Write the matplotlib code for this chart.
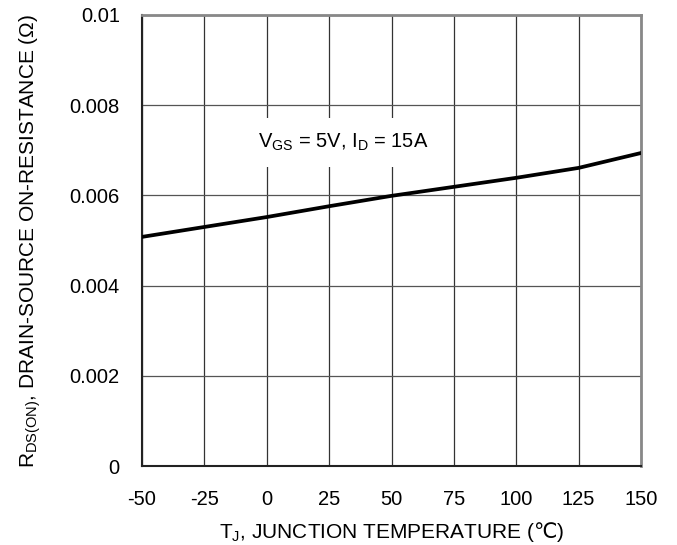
import matplotlib.pyplot as plt

plt.rcParams['font.family'] = ['Liberation Sans', 'DejaVu Sans']
plt.rcParams['mathtext.fontset'] = 'custom'
plt.rcParams['mathtext.rm'] = 'Liberation Sans'
plt.rcParams['mathtext.it'] = 'Liberation Sans'
plt.rcParams['mathtext.sf'] = 'DejaVu Sans'
plt.rcParams['mathtext.default'] = 'regular'
plt.rcParams['axes.unicode_minus'] = False

# junction temperature (C) and on-resistance (ohm)
temp = [-50, -25, 0, 25, 50, 75, 100, 125, 150]
rds_on = [0.00508, 0.00530, 0.00552, 0.00576, 0.00599, 0.00619, 0.00639, 0.00661, 0.00694]

x_ticks = [-50, -25, 0, 25, 50, 75, 100, 125, 150]
y_ticks = [0, 0.002, 0.004, 0.006, 0.008, 0.01]
y_labels = ['0', '0.002', '0.004', '0.006', '0.008', '0.01']

fig = plt.figure(figsize=(6.77, 5.45), dpi=100)
ax = fig.add_axes([142 / 677, 1 - 466 / 545, 499 / 677, 451 / 545])

ax.plot(temp, rds_on, color='black', linewidth=2.7, zorder=3)

ax.set_xlim(-50, 150)
ax.set_ylim(0, 0.01)
ax.set_xticks(x_ticks)
ax.set_yticks(y_ticks)
ax.set_yticklabels(y_labels)
ax.tick_params(length=0, labelsize=14.5)
ax.tick_params(axis='y', pad=16)
ax.tick_params(axis='x', pad=17)
ax.xaxis.grid(True, color='#333333', linewidth=0.9)
ax.yaxis.grid(True, color='#555555', linewidth=0.9)
ax.spines['left'].set_color('#222222')
ax.spines['bottom'].set_color('#222222')
ax.spines['top'].set_color('#888888')
ax.spines['right'].set_color('#888888')
ax.spines['left'].set_linewidth(1.5)
ax.spines['bottom'].set_linewidth(1.5)
ax.spines['top'].set_linewidth(2)
ax.spines['right'].set_linewidth(2)

ax.text(30.5, 0.00718, 'V$_{GS}$ = 5V, I$_D$ = 15A', fontsize=14.5, ha='center', va='center',
        bbox=dict(facecolor='white', edgecolor='none', pad=10), zorder=4)

ax.set_xlabel(r'T$_J$, JUNCTION TEMPERATURE ($\mathsf{℃}$)', fontsize=15, labelpad=8)
ax.set_ylabel('R$_{DS(ON)}$, DRAIN-SOURCE ON-RESISTANCE (Ω)', fontsize=15, labelpad=19)

plt.savefig('out.png', dpi=100)
